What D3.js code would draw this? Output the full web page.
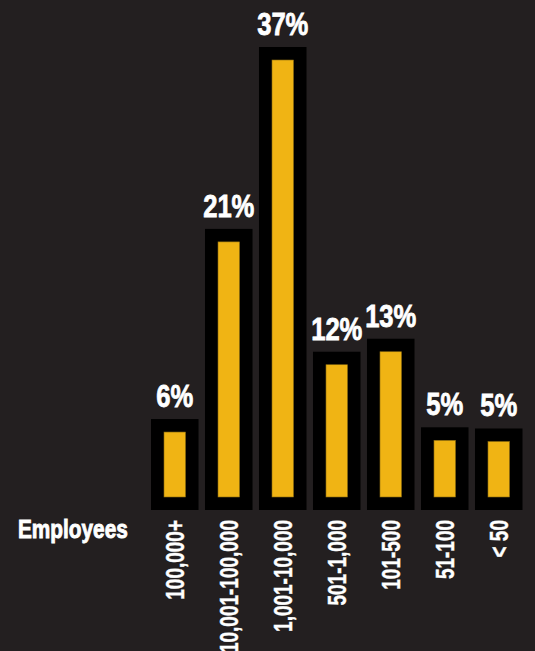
<!DOCTYPE html>
<html>
<head>
<meta charset="utf-8">
<script src="https://cdn.jsdelivr.net/npm/d3@7"></script>
<style>
  html, body { margin: 0; padding: 0; background: #231f20; }
  svg { display: block; }
  text { font-family: "Liberation Sans", Arial, sans-serif; font-weight: bold; fill: #fff; }
</style>
</head>
<body>
<svg id="myGraph" width="535" height="651"></svg>
<script>
// カテゴリ（従業員数）
var categories = ["100,000+", "10,001-100,000", "1,001-10,000", "501-1,000", "101-500", "51-100", "< 50"];
// 棒の高さ（図から読み取った値、%）
var values = [5.5, 21.6, 37, 11.2, 12.3, 4.8, 4.7];
// 棒の上に表示するラベル
var valueLabels = ["6%", "21%", "37%", "12%", "13%", "5%", "5%"];

var svg = d3.select("#myGraph");
var pad = 13;	// 黒い枠の太さ

var x = d3.scaleBand()
	.domain(categories)
	.range([151, 522.5])
	.paddingInner(0.12)
	.paddingOuter(0);

var y = d3.scaleLinear()
	.domain([0, 37])
	.range([497, 60]);

var g = svg.selectAll("g.bar")
	.data(categories)
	.enter()
	.append("g")
	.attr("class", "bar");

// 黒い枠
g.append("rect")
	.attr("x", function(d){ return x(d); })
	.attr("y", function(d, i){ return y(values[i]) - pad; })
	.attr("width", x.bandwidth())
	.attr("height", function(d, i){ return y(0) + pad - (y(values[i]) - pad); })
	.attr("fill", "#000");

// 黄色い棒
g.append("rect")
	.attr("x", function(d){ return x(d) + pad; })
	.attr("y", function(d, i){ return y(values[i]); })
	.attr("width", x.bandwidth() - pad * 2)
	.attr("height", function(d, i){ return y(0) - y(values[i]); })
	.attr("fill", "#f0b414")
	.attr("stroke", "#8a6a10")
	.attr("stroke-width", 0.6);

// パーセント表示（横に詰めた太いフォント）
g.append("text")
	.attr("transform", function(d, i){
		return "translate(" + (x(d) + x.bandwidth() / 2) + "," + (y(values[i]) - pad - 12) + ") scale(0.8,1)";
	})
	.attr("text-anchor", "middle")
	.attr("font-size", "32px")
	.attr("stroke", "#fff")
	.attr("stroke-width", 0.8)
	.text(function(d, i){ return valueLabels[i]; });

// カテゴリラベル（縦書き）
g.append("text")
	.attr("transform", function(d){
		return "translate(" + (x(d) + x.bandwidth() / 2 + 9) + ",520) rotate(-90) scale(0.76,1)";
	})
	.attr("text-anchor", "end")
	.attr("font-size", "25px")
	.attr("stroke", "#fff")
	.attr("stroke-width", 0.4)
	.text(function(d){ return d; });

svg.append("text")
	.attr("transform", "translate(18,538) scale(0.8,1)")
	.attr("font-size", "26px")
	.attr("stroke", "#fff")
	.attr("stroke-width", 0.9)
	.text("Employees");
</script>
</body>
</html>
